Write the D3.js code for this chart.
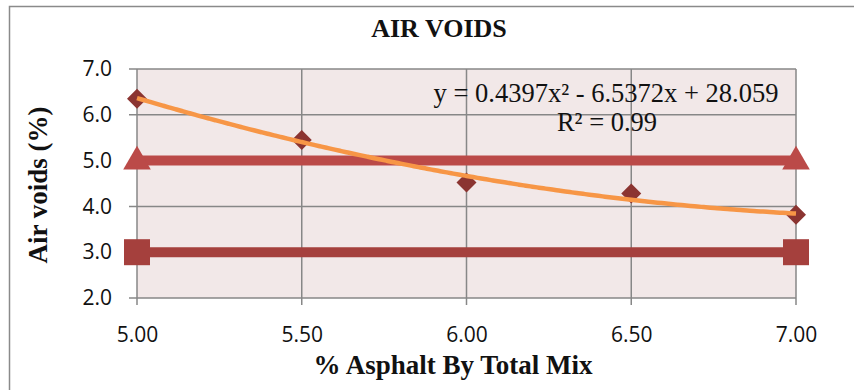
<!DOCTYPE html>
<html>
<head>
<meta charset="utf-8">
<script src="https://cdn.jsdelivr.net/npm/d3@7/dist/d3.min.js"></script>
<style>
  html, body { margin: 0; padding: 0; background: #fff; }
  svg { display: block; }
</style>
</head>
<body>
<svg id="chart" width="854" height="390"></svg>
<script>
// Asphalt content (% by total mix) and measured air voids (%)
const asphalt = [5.0, 5.5, 6.0, 6.5, 7.0];
const airVoids = [6.35, 5.45, 4.52, 4.28, 3.82];

// Specification limits for air voids
const upperLimit = [5.0, 5.0];
const lowerLimit = [3.0, 3.0];
const limitX = [5.0, 7.0];

// Second-order polynomial trendline coefficients (a x^2 + b x + c)
const trendCoef = [0.4397, -6.5372, 28.059];
const trendLabel = "y = 0.4397x\u00B2 - 6.5372x + 28.059";
const r2Label = "R\u00B2 = 0.99";

const xTicks = [5.0, 5.5, 6.0, 6.5, 7.0];
const yTicks = [2, 3, 4, 5, 6, 7];

const svg = d3.select("#chart");
const plot = { left: 137, right: 796, top: 69, bottom: 298 };

const x = d3.scaleLinear().domain([5, 7]).range([plot.left, plot.right]);
const y = d3.scaleLinear().domain([2, 7]).range([plot.bottom, plot.top]);

// chart frame
svg.append("rect")
  .attr("x", 9.5).attr("y", 6.5)
  .attr("width", 860).attr("height", 400)
  .attr("fill", "#fff").attr("stroke", "#8a8a8a").attr("stroke-width", 1.5);

// plot background
svg.append("rect")
  .attr("x", plot.left).attr("y", plot.top)
  .attr("width", plot.right - plot.left).attr("height", plot.bottom - plot.top)
  .attr("fill", "#f2e8e8");

// gridlines
const gridColor = "#878787";
svg.append("g").selectAll("line").data(yTicks).join("line")
  .attr("x1", plot.left - 8).attr("x2", plot.right)
  .attr("y1", d => y(d)).attr("y2", d => y(d))
  .attr("stroke", gridColor).attr("stroke-width", 1.5);
svg.append("g").selectAll("line").data(xTicks).join("line")
  .attr("x1", d => x(d)).attr("x2", d => x(d))
  .attr("y1", plot.top).attr("y2", plot.bottom + 7)
  .attr("stroke", gridColor).attr("stroke-width", 1.5);

// axes tick labels
const tickFont = "'Open Sans', 'Noto Sans', sans-serif";
const yAxis = d3.axisLeft(y).tickValues(yTicks).tickFormat(d3.format(".1f")).tickSize(0).tickPadding(25);
const gy = svg.append("g").attr("transform", `translate(${plot.left},0)`).call(yAxis);
gy.select(".domain").remove();
gy.selectAll("text").attr("font-family", tickFont).attr("font-size", 21).attr("fill", "#111");

const xAxis = d3.axisBottom(x).tickValues(xTicks).tickFormat(d3.format(".2f")).tickSize(0).tickPadding(29);
const gx = svg.append("g").attr("transform", `translate(0,${plot.bottom})`).call(xAxis);
gx.select(".domain").remove();
gx.selectAll("text").attr("font-family", tickFont).attr("font-size", 21).attr("fill", "#111");

// limit lines
const limitLine = d3.line().x(d => x(d[0])).y(d => y(d[1]));
const upperPts = limitX.map((v, i) => [v, upperLimit[i]]);
const lowerPts = limitX.map((v, i) => [v, lowerLimit[i]]);

svg.append("path").datum(upperPts).attr("d", limitLine)
  .attr("fill", "none").attr("stroke", "#bb4a48").attr("stroke-width", 10);
svg.append("path").datum(lowerPts).attr("d", limitLine)
  .attr("fill", "none").attr("stroke", "#a5403d").attr("stroke-width", 10);

const tri = d3.symbol().type(d3.symbolTriangle).size(330);
svg.append("g").selectAll("path").data(upperPts).join("path")
  .attr("d", tri)
  .attr("transform", d => `translate(${x(d[0])},${y(d[1]) + 1})`)
  .attr("fill", "#bb4a48");

svg.append("g").selectAll("rect").data(lowerPts).join("rect")
  .attr("x", d => x(d[0]) - 13).attr("y", d => y(d[1]) - 13)
  .attr("width", 26).attr("height", 26)
  .attr("fill", "#a5403d");

// data markers (diamonds)
svg.append("g").selectAll("path").data(asphalt.map((v, i) => [v, airVoids[i]])).join("path")
  .attr("d", "M0,-10L10,0L0,10L-10,0Z")
  .attr("transform", d => `translate(${x(d[0])},${y(d[1])})`)
  .attr("fill", "#8b3431");

// polynomial trendline
const trendX = d3.range(5, 7.0001, 0.02);
const trendPts = trendX.map(v => [v, trendCoef[0] * v * v + trendCoef[1] * v + trendCoef[2]]);
svg.append("path").datum(trendPts)
  .attr("d", d3.line().x(d => x(d[0])).y(d => y(d[1])).curve(d3.curveMonotoneX))
  .attr("fill", "none").attr("stroke", "#f79646").attr("stroke-width", 4.5);

// trendline equation
const serif = "'Liberation Serif', 'Times New Roman', serif";
svg.append("text").attr("x", 606).attr("y", 102).attr("text-anchor", "middle")
  .attr("font-family", serif).attr("font-size", 26.5).attr("fill", "#111").text(trendLabel);
svg.append("text").attr("x", 607).attr("y", 131).attr("text-anchor", "middle")
  .attr("font-family", serif).attr("font-size", 26.5).attr("fill", "#111").text(r2Label);

// titles
svg.append("text").attr("x", 439).attr("y", 37).attr("text-anchor", "middle")
  .attr("font-family", serif).attr("font-weight", "bold").attr("font-size", 26)
  .attr("fill", "#111").text("AIR VOIDS");
svg.append("text").attr("x", 453).attr("y", 374).attr("text-anchor", "middle")
  .attr("font-family", serif).attr("font-weight", "bold").attr("font-size", 27)
  .attr("fill", "#111").text("% Asphalt By Total Mix");
svg.append("text").attr("transform", "translate(47,185) rotate(-90)").attr("text-anchor", "middle")
  .attr("font-family", serif).attr("font-weight", "bold").attr("font-size", 27)
  .attr("fill", "#111").text("Air voids (%)");
</script>
</body>
</html>
